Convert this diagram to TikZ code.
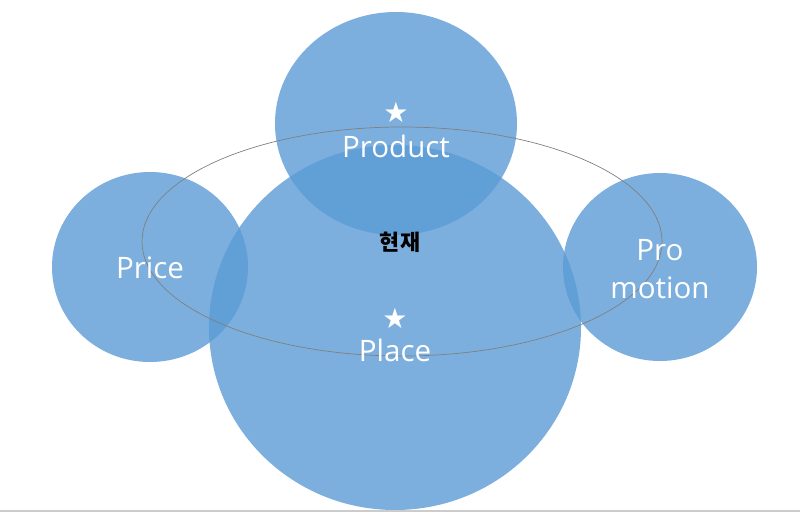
\documentclass[tikz,border=0pt]{standalone}
\usepackage{fontspec}
\setmainfont{Open Sans}
\newfontfamily\symfont{DejaVu Sans}
\newfontfamily\krfont{Noto Sans CJK KR}
\usetikzlibrary{math}
\definecolor{mixblue}{RGB}{91,155,213}
\definecolor{rimgray}{RGB}{128,128,128}

\begin{document}
\begin{tikzpicture}[x=0.025cm,y=-0.025cm]
\tikzmath{
\cx=396;
\gx=395;
}
\tikzset{
  blob/.style={fill=mixblue,fill opacity=0.8},
  word/.style={text=white,font=\fontsize{21}{24}\selectfont,align=center,inner sep=0pt},
  starmark/.style={text=white,font=\symfont\fontsize{20}{22}\selectfont,inner sep=0pt}
}
\useasboundingbox (0,0) rectangle (800,513);

%%%%%%%%%% circles
\fill[blob] (\gx,327.5) ellipse [x radius=186, y radius=182.5];
\fill[blob] (\cx,123.5) ellipse [x radius=121, y radius=111.5];
\fill[blob] (150,267) ellipse [x radius=98, y radius=95];
\fill[blob] (660,267) ellipse [x radius=97, y radius=94];

%%%%%%%%%% ring
\draw[rimgray,line width=0.5pt] (402,241.5) ellipse [x radius=260, y radius=114.5];

%%%%%%%%%% labels
\node[starmark] (prodstar) at (\cx,112) {★};
\node[word] (product) at (\cx,146) {Product};
\node[font=\krfont\bfseries\fontsize{15.5}{18}\selectfont,inner sep=0pt] (now) at (400,242) {현재};
\node[starmark] (placestar) at (\gx,318) {★};
\node[word] (place) at (\gx,350) {Place};
\node[word] (price) at (150,268) {Price};
\node[word] (promo) at (660,269) {Pro\\[3pt]motion};

%%%%%%%%%% base line
\draw[black!20,line width=1pt] (0,511) -- (800,511);
\end{tikzpicture}
\end{document}
